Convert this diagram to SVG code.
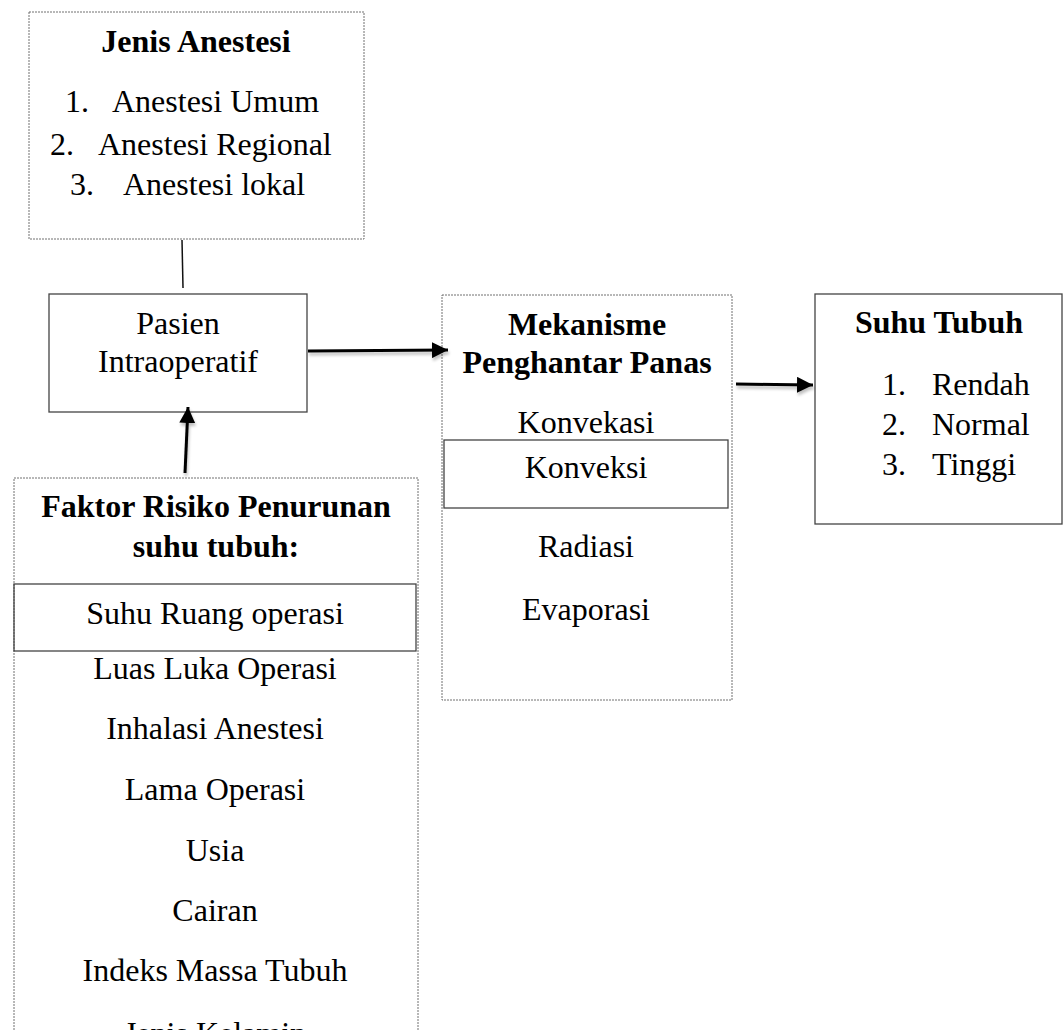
<svg xmlns="http://www.w3.org/2000/svg" width="1064" height="1030" viewBox="0 0 1064 1030">
<style>
  text { font-family: "Liberation Serif", "Times New Roman", serif; font-size: 32px; fill: #000; }
  .b { font-weight: bold; }
  .c { text-anchor: middle; }
  .dot { fill: #fff; stroke: #707070; stroke-width: 1; stroke-dasharray: 2 1; }
  .solid { fill: #fff; stroke: #444; stroke-width: 1.3; }
  .inner { fill: none; stroke: #444; stroke-width: 1.3; }
  .conn { stroke: #000; stroke-width: 3; fill: none; }
  .thin { stroke: #111; stroke-width: 1.5; fill: none; }
</style>
<defs>
  <marker id="ah" markerUnits="userSpaceOnUse" markerWidth="16" markerHeight="16" refX="16" refY="8" orient="auto">
    <path d="M0,0 L16,8 L0,16 Z" fill="#000"/>
  </marker>
  <filter id="sh" filterUnits="userSpaceOnUse" x="0" y="0" width="1064" height="1030">
    <feGaussianBlur in="SourceAlpha" stdDeviation="1.5"/>
    <feOffset dx="1" dy="3" result="o"/>
    <feComponentTransfer><feFuncA type="linear" slope="0.25"/></feComponentTransfer>
    <feMerge><feMergeNode/><feMergeNode in="SourceGraphic"/></feMerge>
  </filter>
</defs>

<g id="jenis-anestesi">
  <rect class="dot" x="29" y="12" width="335" height="227"/>
  <text class="b c" x="196" y="52">Jenis Anestesi</text>
  <text x="65" y="112">1.</text><text x="112" y="112">Anestesi Umum</text>
  <text x="50" y="155">2.</text><text x="98" y="155">Anestesi Regional</text>
  <text x="70" y="195">3.</text><text x="123" y="195">Anestesi lokal</text>
</g>

<g id="pasien">
  <rect class="solid" x="49" y="294" width="258" height="118"/>
  <text class="c" x="178" y="334">Pasien</text>
  <text class="c" x="178" y="372">Intraoperatif</text>
</g>

<g id="faktor-risiko">
  <rect class="dot" x="14" y="478" width="404" height="580"/>
  <text class="b c" x="216" y="517">Faktor Risiko Penurunan</text>
  <text class="b c" x="216" y="557">suhu tubuh:</text>
  <rect class="inner" x="14" y="584" width="402" height="67"/>
  <text class="c" x="215" y="624">Suhu Ruang operasi</text>
  <text class="c" x="215" y="679">Luas Luka Operasi</text>
  <text class="c" x="215" y="739">Inhalasi Anestesi</text>
  <text class="c" x="215" y="800">Lama Operasi</text>
  <text class="c" x="215" y="861">Usia</text>
  <text class="c" x="215" y="921">Cairan</text>
  <text class="c" x="215" y="981">Indeks Massa Tubuh</text>
  <text class="c" x="215" y="1044">Jenis Kelamin</text>
</g>

<g id="mekanisme">
  <rect class="dot" x="442" y="295" width="290" height="405"/>
  <text class="b c" x="587" y="335">Mekanisme</text>
  <text class="b c" x="587" y="373">Penghantar Panas</text>
  <text class="c" x="586" y="433">Konvekasi</text>
  <rect class="inner" x="444" y="440" width="284" height="68"/>
  <text class="c" x="586" y="478">Konveksi</text>
  <text class="c" x="586" y="557">Radiasi</text>
  <text class="c" x="586" y="620">Evaporasi</text>
</g>

<g id="suhu-tubuh">
  <rect class="solid" x="815" y="294" width="247" height="230"/>
  <text class="b c" x="939" y="333">Suhu Tubuh</text>
  <text x="882" y="395">1.</text><text x="932" y="395">Rendah</text>
  <text x="882" y="435">2.</text><text x="932" y="435">Normal</text>
  <text x="882" y="475">3.</text><text x="932" y="475">Tinggi</text>
</g>

<g id="connectors">
  <line class="thin" x1="182" y1="240" x2="183" y2="288"/>
  <g filter="url(#sh)">
    <line class="conn" x1="308" y1="351" x2="448" y2="350" marker-end="url(#ah)"/>
    <line class="conn" x1="185" y1="473" x2="188" y2="407" marker-end="url(#ah)"/>
    <line class="conn" x1="736" y1="384" x2="813" y2="385" marker-end="url(#ah)"/>
  </g>
</g>
</svg>
